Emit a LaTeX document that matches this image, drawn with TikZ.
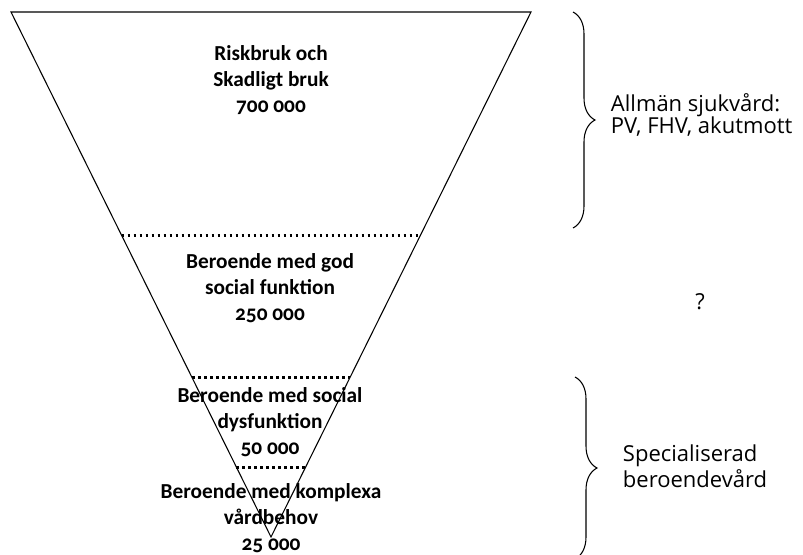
\documentclass[tikz,border=0pt]{standalone}
\usepackage{fontspec}
\setmainfont{Carlito}[Numbers=OldStyle]
\newfontfamily\sidefont{Open Sans}
\usetikzlibrary{calc, decorations.pathreplacing}

\begin{document}
\begin{tikzpicture}[x=0.75pt, y=-0.75pt, line width=0.8pt,
  level/.style={font=\bfseries\fontsize{16}{19.5}\selectfont, align=center},
  care/.style={font=\sidefont\fontsize{16.5}{17}\selectfont, align=left, anchor=west},
  divider/.style={line width=2.2pt, dash pattern=on 2.2pt off 2.3pt},
  curly/.style={decorate, decoration={brace, amplitude=16.5pt}}]
  \useasboundingbox (0,0) rectangle (803,554);
  \coordinate (topL) at (11,12);
  \coordinate (topR) at (531,12);
  \coordinate (tip) at (271,537);
  \draw (topL) -- (topR) -- (tip) -- cycle;
  \draw[divider] ($(topL)!0.425!(tip)$) -- ($(topR)!0.425!(tip)$);
  \draw[divider] ($(topL)!0.697!(tip)$) -- ($(topR)!0.697!(tip)$);
  \draw[divider] ($(topL)!0.867!(tip)$) -- ($(topR)!0.867!(tip)$);
  \node[level] (risk) at (271,80) {Riskbruk och\\Skadligt bruk\\700 000};
  \node[level] (god) at (270,288) {Beroende med god\\social funktion\\250 000};
  \node[level] (dys) at (270,422) {Beroende med social\\dysfunktion\\50 000};
  \node[level] (komplex) at (271,518) {Beroende med komplexa\\vårdbehov\\25 000};
  \coordinate (b1top) at (573,12);
  \coordinate (b1bot) at (573,228);
  \coordinate (b2top) at (575,377);
  \coordinate (b2bot) at (575,559);
  \draw[curly] (b1top) -- (b1bot);
  \draw[curly] (b2top) -- (b2bot);
  \node[care] (allman) at (606,115) {Allmän sjukvård:\\PV, FHV, akutmott};
  \node[care, anchor=center] (fraga) at (700,302) {?};
  \node[care, font=\sidefont\fontsize{16.5}{19.5}\selectfont] (spec) at (618,466) {Specialiserad\\beroendevård};
\end{tikzpicture}
\end{document}
